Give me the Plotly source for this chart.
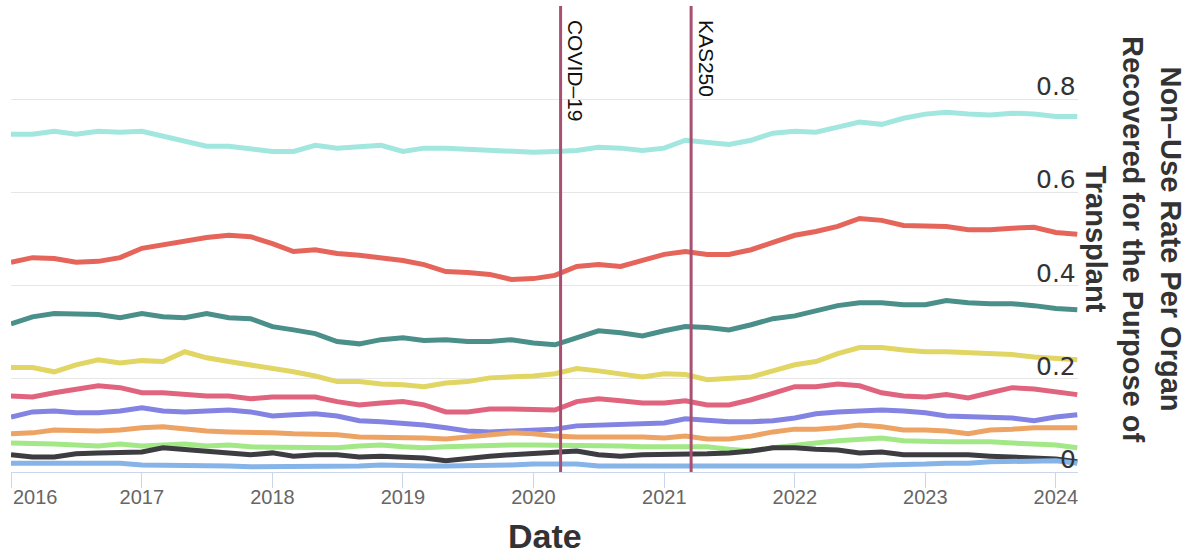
import plotly.graph_objects as go

# Sampling grid: every two months from 2016-01 to 2024-03
dates = [f"{y}-{m:02d}-01" for y in range(2016, 2025) for m in (1, 3, 5, 7, 9, 11)][:50]

series_names = ["Group 1", "Group 2", "Group 3", "Group 4", "Group 5",
                "Group 6", "Group 7", "Group 8", "Group 9", "Group 10"]

s1 = [0.725, 0.725, 0.731, 0.725, 0.731, 0.729, 0.731, 0.720, 0.708, 0.699,
      0.699, 0.693, 0.688, 0.688, 0.701, 0.695, 0.699, 0.701, 0.688, 0.695,
      0.695, 0.693, 0.690, 0.688, 0.686, 0.688, 0.690, 0.697, 0.695, 0.690,
      0.695, 0.712, 0.708, 0.703, 0.712, 0.727, 0.731, 0.729, 0.740, 0.751,
      0.746, 0.759, 0.768, 0.772, 0.768, 0.766, 0.770, 0.768, 0.763, 0.763]
s2 = [0.450, 0.460, 0.458, 0.450, 0.452, 0.460, 0.480, 0.488, 0.497, 0.503,
      0.508, 0.505, 0.490, 0.473, 0.477, 0.469, 0.465, 0.460, 0.454, 0.445,
      0.430, 0.428, 0.424, 0.413, 0.415, 0.422, 0.441, 0.445, 0.441, 0.454,
      0.467, 0.473, 0.467, 0.467, 0.477, 0.493, 0.508, 0.516, 0.527, 0.544,
      0.540, 0.529, 0.529, 0.527, 0.520, 0.520, 0.523, 0.525, 0.514, 0.510]
s3 = [0.318, 0.333, 0.340, 0.338, 0.338, 0.331, 0.340, 0.333, 0.331, 0.340,
      0.331, 0.329, 0.312, 0.305, 0.297, 0.280, 0.275, 0.284, 0.288, 0.282,
      0.284, 0.280, 0.280, 0.284, 0.277, 0.273, 0.288, 0.303, 0.299, 0.292,
      0.303, 0.312, 0.310, 0.305, 0.316, 0.329, 0.335, 0.346, 0.357, 0.363,
      0.363, 0.359, 0.359, 0.368, 0.363, 0.361, 0.361, 0.357, 0.351, 0.348]
s4 = [0.224, 0.224, 0.215, 0.230, 0.241, 0.234, 0.239, 0.237, 0.258, 0.245,
      0.237, 0.230, 0.224, 0.215, 0.206, 0.194, 0.194, 0.189, 0.187, 0.183,
      0.191, 0.194, 0.202, 0.204, 0.206, 0.211, 0.222, 0.217, 0.211, 0.204,
      0.211, 0.209, 0.198, 0.200, 0.204, 0.217, 0.230, 0.237, 0.254, 0.267,
      0.267, 0.262, 0.258, 0.258, 0.256, 0.254, 0.252, 0.247, 0.243, 0.241]
s5 = [0.163, 0.161, 0.170, 0.178, 0.185, 0.181, 0.170, 0.170, 0.166, 0.163,
      0.163, 0.157, 0.161, 0.161, 0.161, 0.151, 0.144, 0.148, 0.151, 0.144,
      0.129, 0.129, 0.135, 0.135, 0.133, 0.133, 0.151, 0.157, 0.153, 0.148,
      0.148, 0.153, 0.144, 0.144, 0.155, 0.170, 0.183, 0.183, 0.189, 0.185,
      0.170, 0.163, 0.161, 0.166, 0.159, 0.170, 0.181, 0.178, 0.172, 0.166]
s6 = [0.118, 0.129, 0.131, 0.127, 0.127, 0.131, 0.138, 0.131, 0.129, 0.131,
      0.133, 0.129, 0.120, 0.123, 0.125, 0.120, 0.110, 0.108, 0.105, 0.101,
      0.095, 0.088, 0.086, 0.088, 0.090, 0.092, 0.099, 0.101, 0.103, 0.105,
      0.105, 0.114, 0.110, 0.108, 0.108, 0.110, 0.116, 0.125, 0.129, 0.131,
      0.133, 0.131, 0.127, 0.120, 0.118, 0.118, 0.116, 0.110, 0.118, 0.123]
s7 = [0.082, 0.084, 0.090, 0.088, 0.088, 0.090, 0.095, 0.097, 0.092, 0.088,
      0.086, 0.086, 0.084, 0.082, 0.082, 0.080, 0.075, 0.075, 0.073, 0.073,
      0.071, 0.075, 0.080, 0.084, 0.082, 0.077, 0.075, 0.075, 0.077, 0.075,
      0.073, 0.077, 0.071, 0.071, 0.077, 0.086, 0.092, 0.092, 0.095, 0.101,
      0.097, 0.090, 0.090, 0.088, 0.082, 0.090, 0.092, 0.095, 0.095, 0.095]
s8 = [0.062, 0.062, 0.060, 0.058, 0.056, 0.060, 0.056, 0.058, 0.060, 0.056,
      0.058, 0.054, 0.054, 0.054, 0.052, 0.052, 0.056, 0.058, 0.054, 0.052,
      0.054, 0.056, 0.056, 0.058, 0.058, 0.058, 0.058, 0.058, 0.056, 0.054,
      0.054, 0.054, 0.054, 0.049, 0.045, 0.052, 0.056, 0.062, 0.067, 0.071,
      0.073, 0.067, 0.065, 0.065, 0.065, 0.065, 0.062, 0.060, 0.058, 0.052]
s9 = [0.037, 0.032, 0.032, 0.039, 0.041, 0.041, 0.043, 0.052, 0.049, 0.045,
      0.041, 0.037, 0.041, 0.034, 0.037, 0.037, 0.032, 0.034, 0.032, 0.030,
      0.024, 0.030, 0.034, 0.037, 0.039, 0.041, 0.045, 0.037, 0.034, 0.037,
      0.037, 0.039, 0.039, 0.041, 0.045, 0.052, 0.052, 0.049, 0.047, 0.041,
      0.043, 0.037, 0.037, 0.037, 0.037, 0.034, 0.032, 0.032, 0.028, 0.022]
s10 = [0.019, 0.019, 0.019, 0.019, 0.017, 0.019, 0.015, 0.015, 0.015, 0.015,
       0.013, 0.011, 0.011, 0.011, 0.011, 0.013, 0.013, 0.015, 0.013, 0.013,
       0.013, 0.013, 0.015, 0.015, 0.017, 0.017, 0.017, 0.013, 0.013, 0.013,
       0.013, 0.013, 0.013, 0.013, 0.011, 0.011, 0.011, 0.013, 0.013, 0.013,
       0.015, 0.015, 0.017, 0.019, 0.019, 0.022, 0.022, 0.024, 0.024, 0.019]

series_values = [s1, s2, s3, s4, s5, s6, s7, s8, s9, s10]
series_colors = ["#a1e6df", "#e5655b", "#4a8f89", "#e1d563", "#e1647f",
                 "#8283e2", "#eda364", "#a3e886", "#3c3c41", "#86b4e8"]

year_ticks = [f"{y}-01-01" for y in range(2016, 2025)]
year_labels = ["2016", "2017", "2018", "2019", "2020", "2021", "2022", "2023", "2024"]

y_ticks = [0, 0.2, 0.4, 0.6, 0.8, 1.0]
y_labels = ["0", "0.2", "0.4", "0.6", "0.8", ""]

event_dates = ["2020-03-17", "2021-03-17"]
event_labels = ["COVID–19", "KAS250"]

x_title = "Date"
y_title = "Non–Use Rate Per Organ<br>Recovered for the Purpose of<br>Transplant"

fig = go.Figure()
for name, vals, color in zip(series_names, series_values, series_colors):
    fig.add_trace(go.Scatter(x=dates, y=vals, mode="lines", name=name,
                             line=dict(color=color, width=5),
                             showlegend=False, hoverinfo="skip"))

for d, lbl in zip(event_dates, event_labels):
    fig.add_shape(type="line", xref="x", yref="paper", x0=d, x1=d, y0=0, y1=1,
                  line=dict(color="#a94f72", width=3), layer="above")
    fig.add_annotation(x=d, xref="x", y=1, yref="paper", text=lbl, textangle=90,
                       xanchor="left", yanchor="top", xshift=2, yshift=-12,
                       showarrow=False,
                       font=dict(family="Liberation Sans, Arial, sans-serif", size=21, color="#111111"))

# y tick labels sit inside the plot, right-aligned just above their grid lines
for v, t in zip(y_ticks, y_labels):
    if t:
        fig.add_annotation(x=1, xref="paper", y=v, yref="y", text=t,
                           xanchor="right", yanchor="bottom", yshift=-4, showarrow=False,
                           font=dict(family="DejaVu Sans, sans-serif", size=25, color="#333333"))

# first year label placed inside the plot edge (like the original)
fig.add_annotation(x=year_ticks[0], xref="x", y=0, yref="paper", text=year_labels[0],
                   xanchor="left", yanchor="middle", yshift=-25, showarrow=False,
                   font=dict(family="Liberation Sans, Arial, sans-serif", size=20, color="#666666"))

fig.add_annotation(x=0.5, xref="paper", y=0, yref="paper", text=f"<b>{x_title}</b>",
                   xanchor="center", yanchor="middle", yshift=-64, showarrow=False,
                   font=dict(family="Liberation Sans, Arial, sans-serif", size=34, color="#333333"))

fig.add_annotation(x=1, xref="paper", y=0.5, yref="paper", text=f"<b>{y_title}</b>",
                   textangle=90, xanchor="center", yanchor="middle", xshift=56,
                   showarrow=False,
                   font=dict(family="Liberation Sans, Arial, sans-serif", size=29, color="#333333"))

fig.update_layout(
    width=1189, height=554,
    margin=dict(l=11, r=111, t=6, b=82),
    paper_bgcolor="white", plot_bgcolor="white",
    xaxis=dict(type="date", range=["2016-01-01", "2024-03-03"],
               tickvals=year_ticks, ticktext=[""] + year_labels[1:],
               ticks="outside", ticklen=15, tickcolor="#ccd6eb", tickwidth=1,
               showline=True, linecolor="#ccd6eb", linewidth=1,
               showgrid=False, zeroline=False, ticklabeloverflow="allow",
               ticklabelstandoff=-8,
               tickfont=dict(family="Liberation Sans, Arial, sans-serif", size=20, color="#666666")),
    yaxis=dict(side="right", range=[0, 1], tickvals=y_ticks, showticklabels=False,
               ticks="", showgrid=True, gridcolor="#e6e6e6", gridwidth=1,
               zeroline=False, showline=False),
)

fig.write_html("out.html", config={"displayModeBar": False},
               post_script="document.body.style.margin='0px';")
